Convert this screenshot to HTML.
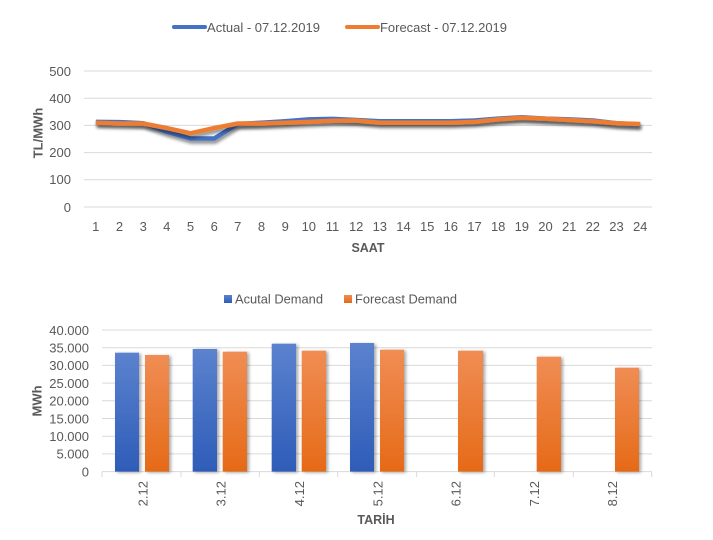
<!DOCTYPE html>
<html><head><meta charset="utf-8"><style>
html,body{margin:0;padding:0;background:#fff;}
svg{display:block;font-family:"Liberation Sans",sans-serif;}
</style></head><body>
<svg width="713" height="540" viewBox="0 0 713 540" xmlns="http://www.w3.org/2000/svg">
<defs>
<filter id="ls" x="-10%" y="-50%" width="120%" height="200%">
<feGaussianBlur in="SourceAlpha" stdDeviation="1.6"/>
<feOffset dx="1" dy="3" result="b"/>
<feComponentTransfer><feFuncA type="linear" slope="0.45"/></feComponentTransfer>
<feMerge><feMergeNode/><feMergeNode in="SourceGraphic"/></feMerge>
</filter>
<filter id="bs" x="-30%" y="-10%" width="160%" height="120%">
<feGaussianBlur in="SourceAlpha" stdDeviation="1.5"/>
<feOffset dx="2" dy="1" result="b"/>
<feComponentTransfer><feFuncA type="linear" slope="0.35"/></feComponentTransfer>
<feMerge><feMergeNode/><feMergeNode in="SourceGraphic"/></feMerge>
</filter>
<linearGradient id="gb" x1="0" y1="0" x2="0" y2="1"><stop offset="0" stop-color="#5B82CE"/><stop offset="1" stop-color="#2E5CB8"/></linearGradient>
<linearGradient id="go" x1="0" y1="0" x2="0" y2="1"><stop offset="0" stop-color="#F08D54"/><stop offset="1" stop-color="#E66A17"/></linearGradient>
</defs>
<rect width="713" height="540" fill="#fff"/>

<!-- TOP CHART -->
<line x1="174" y1="27" x2="205" y2="27" stroke="#4472C4" stroke-width="4" stroke-linecap="round"/>
<text x="207" y="32" font-size="13" fill="#595959" textLength="113" lengthAdjust="spacingAndGlyphs">Actual - 07.12.2019</text>
<line x1="347" y1="27" x2="378" y2="27" stroke="#ED7D31" stroke-width="4" stroke-linecap="round"/>
<text x="380" y="32" font-size="13" fill="#595959" textLength="127" lengthAdjust="spacingAndGlyphs">Forecast - 07.12.2019</text>

<g stroke="#D9D9D9" stroke-width="1">
<line x1="84" y1="71" x2="652" y2="71"/>
<line x1="84" y1="98.2" x2="652" y2="98.2"/>
<line x1="84" y1="125.4" x2="652" y2="125.4"/>
<line x1="84" y1="152.6" x2="652" y2="152.6"/>
<line x1="84" y1="179.8" x2="652" y2="179.8"/>
<line x1="84" y1="207" x2="652" y2="207"/>
</g>
<g font-size="13" fill="#595959" text-anchor="end">
<text x="71" y="76">500</text>
<text x="71" y="103">400</text>
<text x="71" y="130">300</text>
<text x="71" y="157">200</text>
<text x="71" y="184">100</text>
<text x="71" y="212">0</text>
</g>
<text transform="translate(42.5,133) rotate(-90)" font-size="13" font-weight="bold" fill="#595959" text-anchor="middle">TL/MWh</text>
<g font-size="13" fill="#595959" text-anchor="middle">
<text x="95.8" y="231">1</text><text x="119.5" y="231">2</text><text x="143.2" y="231">3</text><text x="166.8" y="231">4</text><text x="190.5" y="231">5</text><text x="214.2" y="231">6</text><text x="237.8" y="231">7</text><text x="261.5" y="231">8</text><text x="285.2" y="231">9</text><text x="308.8" y="231">10</text><text x="332.5" y="231">11</text><text x="356.2" y="231">12</text><text x="379.8" y="231">13</text><text x="403.5" y="231">14</text><text x="427.2" y="231">15</text><text x="450.8" y="231">16</text><text x="474.5" y="231">17</text><text x="498.2" y="231">18</text><text x="521.8" y="231">19</text><text x="545.5" y="231">20</text><text x="569.2" y="231">21</text><text x="592.8" y="231">22</text><text x="616.5" y="231">23</text><text x="640.2" y="231">24</text>
</g>
<text x="368" y="252" font-size="12.5" font-weight="bold" fill="#595959" text-anchor="middle">SAAT</text>

<polyline filter="url(#ls)" fill="none" stroke="#4472C4" stroke-width="4.5" stroke-linejoin="round" points="95.8,121.9 119.5,122.1 143.2,123.2 166.8,131.7 190.5,138.5 214.2,138.5 237.8,124.0 261.5,122.7 285.2,121.3 308.8,119.4 332.5,118.9 356.2,120.0 379.8,121.3 403.5,121.3 427.2,121.3 450.8,121.3 474.5,120.5 498.2,118.6 521.8,117.2 545.5,118.6 569.2,119.4 592.8,120.5 616.5,123.2 640.2,124.6"/>
<polyline filter="url(#ls)" fill="none" stroke="#ED7D31" stroke-width="4.5" stroke-linejoin="round" points="95.8,122.7 119.5,123.5 143.2,123.5 166.8,128.1 190.5,133.3 214.2,128.1 237.8,123.5 261.5,123.5 285.2,122.7 308.8,121.9 332.5,120.8 356.2,120.5 379.8,122.7 403.5,122.7 427.2,122.7 450.8,122.7 474.5,121.9 498.2,119.4 521.8,117.8 545.5,118.6 569.2,120.0 592.8,121.3 616.5,123.2 640.2,124.0"/>

<!-- BOTTOM CHART -->
<rect x="224" y="295" width="8" height="8" fill="url(#gb)"/>
<text x="235" y="303.5" font-size="13" fill="#595959" textLength="88" lengthAdjust="spacingAndGlyphs">Acutal Demand</text>
<rect x="344" y="295" width="8" height="8" fill="url(#go)"/>
<text x="355" y="303.5" font-size="13" fill="#595959" textLength="102" lengthAdjust="spacingAndGlyphs">Forecast Demand</text>

<g stroke="#D9D9D9" stroke-width="1">
<line x1="102" y1="330" x2="652" y2="330"/>
<line x1="102" y1="347.7" x2="652" y2="347.7"/>
<line x1="102" y1="365.4" x2="652" y2="365.4"/>
<line x1="102" y1="383.1" x2="652" y2="383.1"/>
<line x1="102" y1="400.8" x2="652" y2="400.8"/>
<line x1="102" y1="418.5" x2="652" y2="418.5"/>
<line x1="102" y1="436.2" x2="652" y2="436.2"/>
<line x1="102" y1="453.9" x2="652" y2="453.9"/>
<line x1="102" y1="471.6" x2="652" y2="471.6"/>
<line x1="102" y1="471.6" x2="102" y2="477"/>
<line x1="181" y1="471.6" x2="181" y2="477"/>
<line x1="259.3" y1="471.6" x2="259.3" y2="477"/>
<line x1="337.7" y1="471.6" x2="337.7" y2="477"/>
<line x1="416.7" y1="471.6" x2="416.7" y2="477"/>
<line x1="494.3" y1="471.6" x2="494.3" y2="477"/>
<line x1="573.3" y1="471.6" x2="573.3" y2="477"/>
<line x1="651.7" y1="471.6" x2="651.7" y2="477"/>
</g>
<g font-size="13" fill="#595959" text-anchor="end">
<text x="89" y="335">40.000</text>
<text x="89" y="352.5">35.000</text>
<text x="89" y="370">30.000</text>
<text x="89" y="388">25.000</text>
<text x="89" y="405.5">20.000</text>
<text x="89" y="423.5">15.000</text>
<text x="89" y="441">10.000</text>
<text x="89" y="458.5">5.000</text>
<text x="89" y="476.5">0</text>
</g>
<text transform="translate(41.5,401) rotate(-90)" font-size="13" font-weight="bold" fill="#595959" text-anchor="middle">MWh</text>

<g filter="url(#bs)">
<rect x="115" y="352.7" width="24" height="118.9" fill="url(#gb)"/>
<rect x="145" y="355" width="24" height="116.6" fill="url(#go)"/>
<rect x="192.7" y="349" width="24.3" height="122.6" fill="url(#gb)"/>
<rect x="222.7" y="351.7" width="24.3" height="119.9" fill="url(#go)"/>
<rect x="271.7" y="343.7" width="24.3" height="127.9" fill="url(#gb)"/>
<rect x="301.7" y="350.7" width="24.3" height="120.9" fill="url(#go)"/>
<rect x="350" y="343" width="24" height="128.6" fill="url(#gb)"/>
<rect x="380" y="349.7" width="24" height="121.9" fill="url(#go)"/>
<rect x="458" y="350.7" width="25" height="120.9" fill="url(#go)"/>
<rect x="536.7" y="356.7" width="24.3" height="114.9" fill="url(#go)"/>
<rect x="615" y="367.7" width="24" height="103.9" fill="url(#go)"/>
</g>

<g font-size="13" fill="#595959" text-anchor="end">
<text transform="translate(147.5,481) rotate(-90)">2.12</text>
<text transform="translate(225.5,481) rotate(-90)">3.12</text>
<text transform="translate(304,481) rotate(-90)">4.12</text>
<text transform="translate(382.5,481) rotate(-90)">5.12</text>
<text transform="translate(460.5,481) rotate(-90)">6.12</text>
<text transform="translate(539,481) rotate(-90)">7.12</text>
<text transform="translate(617,481) rotate(-90)">8.12</text>
</g>
<text x="376" y="524" font-size="12.5" font-weight="bold" fill="#595959" text-anchor="middle">TARİH</text>
</svg>
</body></html>
